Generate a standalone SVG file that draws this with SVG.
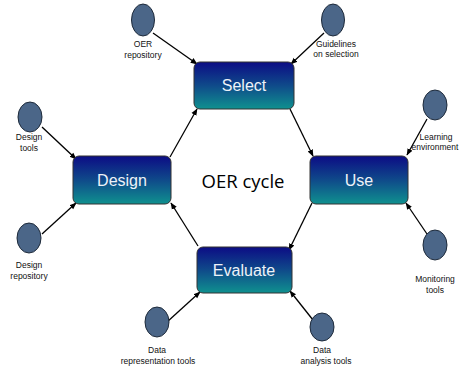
<svg xmlns="http://www.w3.org/2000/svg" width="462" height="368" viewBox="0 0 462 368">
<defs>
<linearGradient id="g" x1="0" y1="0" x2="0" y2="1">
<stop offset="0" stop-color="#0c0c85"/>
<stop offset="0.5" stop-color="#0f4a8a"/>
<stop offset="1" stop-color="#0f918f"/>
</linearGradient>
<marker id="a" viewBox="0 0 10 10" refX="9" refY="5" markerWidth="7" markerHeight="7" orient="auto" markerUnits="userSpaceOnUse">
<path d="M0,1 L10,5 L0,9 z" fill="#000"/>
</marker>
<style>
.box{fill:url(#g);stroke:#333;stroke-width:1}
.bt{font-family:"Liberation Sans",Arial,sans-serif;font-size:16px;fill:#eef2f8;text-anchor:middle}
.el{fill:#4b6688;stroke:#1e2a3a;stroke-width:1}
.lb{font-family:"Liberation Sans",Arial,sans-serif;font-size:8.5px;fill:#111;text-anchor:middle}
.c{stroke:#000;stroke-width:1.3;fill:none;marker-end:url(#a)}
</style>
</defs>
<rect width="462" height="368" fill="#fff"/>
<g id="connectors">
<line class="c" x1="153" y1="33" x2="197" y2="64"/>
<line class="c" x1="324" y1="33" x2="291" y2="64"/>
<line class="c" x1="290" y1="109" x2="313" y2="156"/>
<line class="c" x1="312" y1="203" x2="289" y2="250"/>
<line class="c" x1="198" y1="246" x2="171" y2="203"/>
<line class="c" x1="170" y1="157" x2="197" y2="109"/>
<line class="c" x1="42" y1="127" x2="76" y2="159"/>
<line class="c" x1="42" y1="234" x2="76" y2="203"/>
<line class="c" x1="427" y1="119" x2="407" y2="155"/>
<line class="c" x1="427" y1="234" x2="406" y2="203"/>
<line class="c" x1="167" y1="322" x2="200" y2="292"/>
<line class="c" x1="313" y1="320" x2="290" y2="291"/>
</g>
<g id="select"><rect class="box" x="194" y="62" width="100" height="47" rx="6"/><text class="bt" x="244" y="91">Select</text></g>
<g id="design"><rect class="box" x="73" y="156" width="98" height="48" rx="6"/><text class="bt" x="122" y="186">Design</text></g>
<g id="use"><rect class="box" x="310" y="156" width="98" height="48" rx="6"/><text class="bt" x="359" y="186">Use</text></g>
<g id="evaluate"><rect class="box" x="197" y="247" width="95" height="46" rx="6"/><text class="bt" x="244" y="276">Evaluate</text></g>
<g id="cycle"><text x="243" y="188" font-family="'Open Sans','Liberation Sans',sans-serif" font-size="18.5" fill="#000" text-anchor="middle">OER cycle</text></g>
<g id="oer-repository"><ellipse class="el" cx="143" cy="20" rx="11.5" ry="16"/><text class="lb" x="143" y="47">OER</text><text class="lb" x="143" y="58">repository</text></g>
<g id="guidelines"><ellipse class="el" cx="333" cy="20" rx="11.5" ry="16"/><text class="lb" x="336" y="47">Guidelines</text><text class="lb" x="336" y="57">on selection</text></g>
<g id="design-tools"><ellipse class="el" cx="30" cy="117" rx="12" ry="15"/><text class="lb" x="29" y="140">Design</text><text class="lb" x="29" y="151">tools</text></g>
<g id="design-repository"><ellipse class="el" cx="29" cy="238" rx="12" ry="15"/><text class="lb" x="29" y="268">Design</text><text class="lb" x="29" y="279">repository</text></g>
<g id="learning-environment"><ellipse class="el" cx="435" cy="105" rx="12" ry="15"/><text class="lb" x="436" y="140">Learning</text><text class="lb" x="435" y="150">environment</text></g>
<g id="monitoring-tools"><ellipse class="el" cx="435" cy="245" rx="12" ry="15"/><text class="lb" x="435" y="282">Monitoring</text><text class="lb" x="435" y="293">tools</text></g>
<g id="data-representation"><ellipse class="el" cx="157" cy="322" rx="12" ry="15"/><text class="lb" x="157" y="353">Data</text><text class="lb" x="158" y="364">representation tools</text></g>
<g id="data-analysis"><ellipse class="el" cx="322" cy="327" rx="12" ry="14"/><text class="lb" x="322" y="353">Data</text><text class="lb" x="326" y="364">analysis tools</text></g>
</svg>
